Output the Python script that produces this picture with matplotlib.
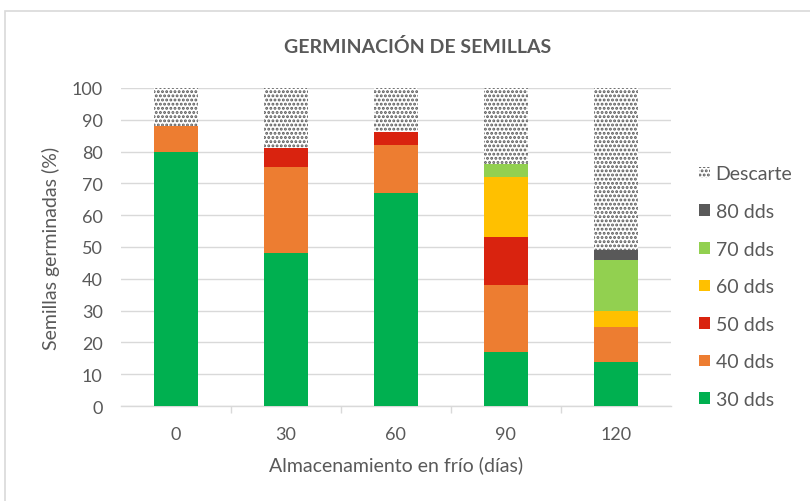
import matplotlib
matplotlib.use("Agg")
import matplotlib.pyplot as plt
from matplotlib.patches import Rectangle
import numpy as np

plt.rcParams['font.family'] = ['Lato', 'DejaVu Sans']
plt.rcParams['hatch.color'] = '#5a5a5a'
plt.rcParams['hatch.linewidth'] = 1.4

# dias de almacenamiento en frio
dias = ['0', '30', '60', '90', '120']

# porcentaje germinado en cada recuento (dds)
g30 = [80, 48, 67, 17, 14]
g40 = [8, 27, 15, 21, 11]
g50 = [0, 6, 4, 15, 0]
g60 = [0, 0, 0, 19, 5]
g70 = [0, 0, 0, 4, 16]
g80 = [0, 0, 0, 0, 3]
descarte = [12, 19, 14, 24, 51]

series = [
    ("30 dds", g30, "#00B050"),
    ("40 dds", g40, "#ED7D31"),
    ("50 dds", g50, "#D9230F"),
    ("60 dds", g60, "#FFC000"),
    ("70 dds", g70, "#92D050"),
    ("80 dds", g80, "#595959"),
]

gris = '#595959'

fig = plt.figure(figsize=(8.1, 5.02), dpi=100)
ax = fig.add_axes([0.149, 0.189, 0.679, 0.634])

# marco del grafico
fig.patches.append(Rectangle((0.006, -0.05), 1.05, 1.026, transform=fig.transFigure,
                             fill=False, edgecolor='#d9d9d9', linewidth=1.2))

x = np.arange(len(dias))
ancho = 0.4
base = np.zeros(len(dias))
handles = []
for nombre, vals, color in series:
    b = ax.bar(x, vals, ancho, bottom=base, color=color, label=nombre, zorder=3)
    handles.append(b)
    base += np.array(vals)
b = ax.bar(x, descarte, ancho, bottom=base, facecolor='white', edgecolor='#5a5a5a',
           linewidth=0, hatch='....', label='Descarte', zorder=3)
handles.append(b)

ax.set_ylim(0, 100)
ax.set_xlim(-0.5, 4.5)
ax.set_yticks(range(0, 101, 10))
ax.set_xticks(x)
ax.set_xticklabels(dias)
ax.set_xticks(np.arange(0.5, 4.5, 1), minor=True)
ax.tick_params(axis='x', which='major', length=0, pad=14, labelsize=13, labelcolor=gris)
ax.tick_params(axis='x', which='minor', length=5, color='#d9d9d9', width=1)
ax.tick_params(axis='y', length=0, pad=13, labelsize=13, labelcolor=gris)
ax.yaxis.grid(True, color='#d9d9d9', linewidth=1, zorder=0)
for s in ['top', 'right', 'left']:
    ax.spines[s].set_visible(False)
ax.spines['bottom'].set_color('#d9d9d9')
ax.spines['bottom'].set_linewidth(1)

ax.set_ylabel('Semillas germinadas (%)', fontsize=14, color=gris, labelpad=8)
ax.set_xlabel('Almacenamiento en frío (días)', fontsize=14, color=gris, labelpad=10)
fig.text(0.515, 0.906, 'GERMINACIÓN DE SEMILLAS', ha='center', va='center',
         fontsize=14, fontweight='bold', color=gris)

leg = ax.legend(handles[::-1], [h.get_label() for h in handles[::-1]],
                loc='center left', bbox_to_anchor=(1.02, 0.375), frameon=False,
                fontsize=14, labelspacing=1.06, handlelength=0.55, handleheight=0.55,
                handletextpad=0.3)
for t in leg.get_texts():
    t.set_color(gris)

fig.savefig('out.png', dpi=100)
